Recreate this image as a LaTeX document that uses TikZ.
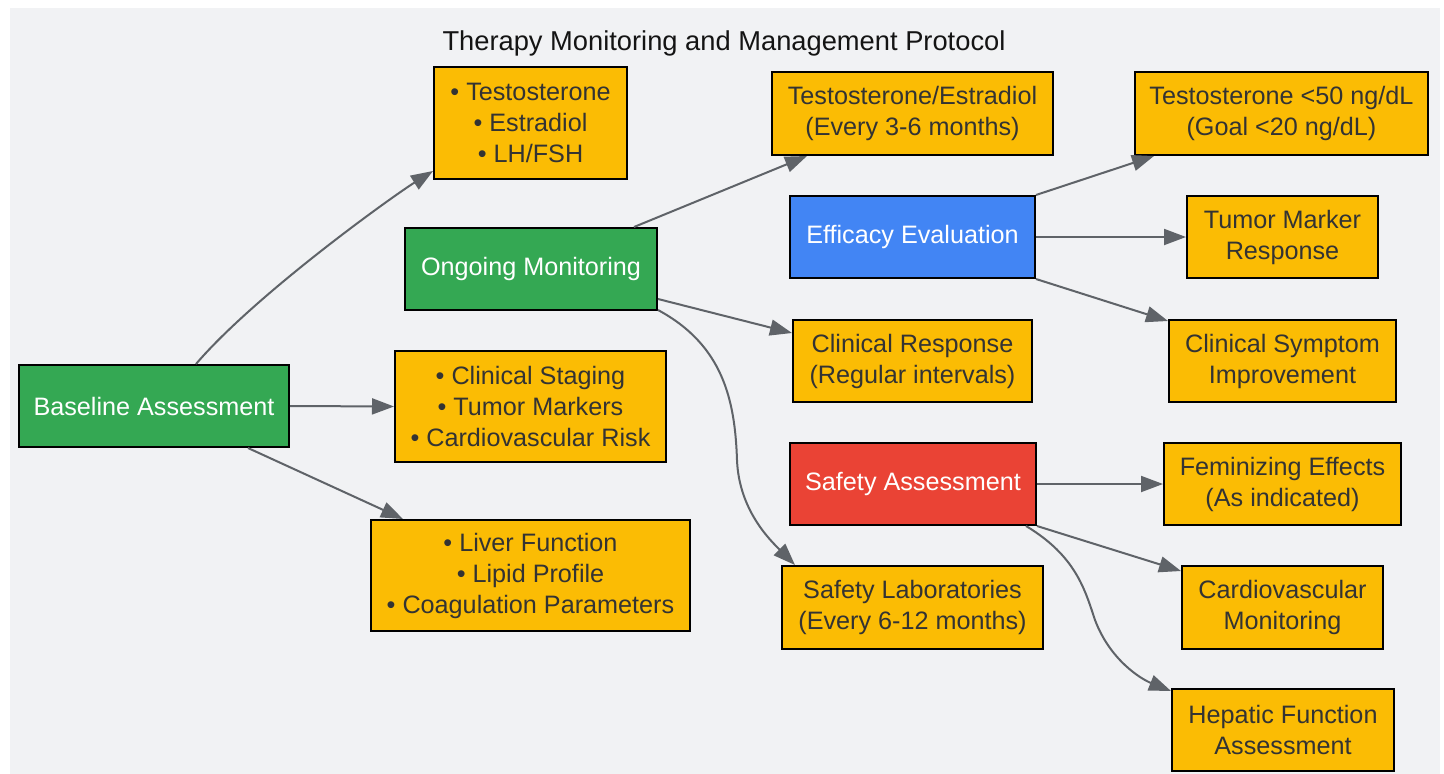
\documentclass[tikz,border=0pt]{standalone}
\usepackage{fontspec}
\setmainfont{Liberation Sans}
\usetikzlibrary{arrows.meta,calc}
\definecolor{bgc}{HTML}{F1F2F4}
\definecolor{ylw}{HTML}{FBBC04}
\definecolor{grn}{HTML}{34A853}
\definecolor{blu}{HTML}{4285F4}
\definecolor{rd}{HTML}{EA4335}
\definecolor{edg}{HTML}{5F6368}
\definecolor{txt}{HTML}{333333}
\begin{document}
\begin{tikzpicture}[x=1pt,y=-1pt,
  box/.style={draw=black,line width=2pt,inner sep=0pt,align=center,
    font=\fontsize{25.2}{31}\selectfont},
  ybox/.style={box,fill=ylw,text=txt},
  gbox/.style={box,fill=grn,text=white},
  bbox/.style={box,fill=blu,text=white},
  rbox/.style={box,fill=rd,text=white},
  conn/.style={draw=edg,line width=2pt,-{Triangle[length=22pt,width=16pt,fill=edg]}}]
\useasboundingbox (0,0) rectangle (1444,774);
\fill[bgc] (10,8) rectangle (1440,774);
\node[font=\fontsize{27.3}{32}\selectfont,text=black!92] (title) at (724,43) {Therapy Monitoring and Management Protocol};
% nodes
\node[gbox,minimum width=270pt,minimum height=82pt] (base) at (154,406) {Baseline Assessment};
\node[ybox,minimum width=193pt,minimum height=112pt] (b1) at (530.5,123) {• Testosterone\\• Estradiol\\• LH/FSH};
\node[ybox,minimum width=271pt,minimum height=111pt] (b2) at (530.5,406.5) {• Clinical Staging\\• Tumor Markers\\• Cardiovascular Risk};
\node[ybox,minimum width=319pt,minimum height=111pt] (b3) at (530.5,575.5) {• Liver Function\\• Lipid Profile\\• Coagulation Parameters};
\node[gbox,minimum width=252pt,minimum height=82pt] (ong) at (531,269) {Ongoing Monitoring};
\node[ybox,minimum width=281pt,minimum height=83pt] (o1) at (912.5,113.5) {Testosterone/Estradiol\\(Every 3-6 months)};
\node[ybox,minimum width=239pt,minimum height=82pt] (o2) at (912.5,361) {Clinical Response\\(Regular intervals)};
\node[ybox,minimum width=261pt,minimum height=83pt] (o3) at (912.5,607.5) {Safety Laboratories\\(Every 6-12 months)};
\node[bbox,minimum width=245pt,minimum height=82pt] (eff) at (912.5,237) {Efficacy Evaluation};
\node[ybox,minimum width=293pt,minimum height=83pt] (e1) at (1281.5,113.5) {Testosterone <50 ng/dL\\(Goal <20 ng/dL)};
\node[ybox,minimum width=191pt,minimum height=82pt] (e2) at (1282.5,237) {Tumor Marker\\Response};
\node[ybox,minimum width=227pt,minimum height=82pt] (e3) at (1282.5,361) {Clinical Symptom\\Improvement};
\node[rbox,minimum width=246pt,minimum height=82pt] (saf) at (913,484) {Safety Assessment};
\node[ybox,minimum width=237pt,minimum height=82pt] (s1) at (1282.5,484) {Feminizing Effects\\(As indicated)};
\node[ybox,minimum width=201pt,minimum height=83pt] (s2) at (1282.5,607.5) {Cardiovascular\\Monitoring};
\node[ybox,minimum width=222pt,minimum height=82pt] (s3) at (1283,730) {Hepatic Function\\Assessment};
% connectors
\draw[conn] ([xshift=42pt]base.north) .. controls +(60,-70) and +(-40,25) .. ([yshift=9pt]b1.south west);
\draw[conn] (base.east) -- (b2.west);
\draw[conn] ([xshift=94pt]base.south) -- ([xshift=33pt]b3.north west);
\draw[conn] ([xshift=103pt]ong.north) -- ([xshift=36pt]o1.south west);
\draw[conn] ([yshift=-30pt]ong.east) -- ([yshift=-14pt]o2.north west);
\draw[conn] ([yshift=1pt]ong.south east) .. controls +(65,35) and +(-2,-60) .. (737,460) .. controls +(2,50) and +(-25,-25) .. ([xshift=14pt]o3.north west);
\draw[conn] (eff.north east) -- ([xshift=20pt]e1.south west);
\draw[conn] (eff.east) -- (e2.west);
\draw[conn] (eff.south east) -- ([yshift=-2pt]e3.north west);
\draw[conn] (saf.east) -- (s1.west);
\draw[conn] (saf.south east) -- ([yshift=-6pt]s2.north west);
\draw[conn] ([xshift=-11pt]saf.south east) .. controls +(50,30) and +(-10,-30) .. (1095,620) .. controls +(15,40) and +(-30,-12) .. ([yshift=-3pt]s3.north west);
\end{tikzpicture}
\end{document}
